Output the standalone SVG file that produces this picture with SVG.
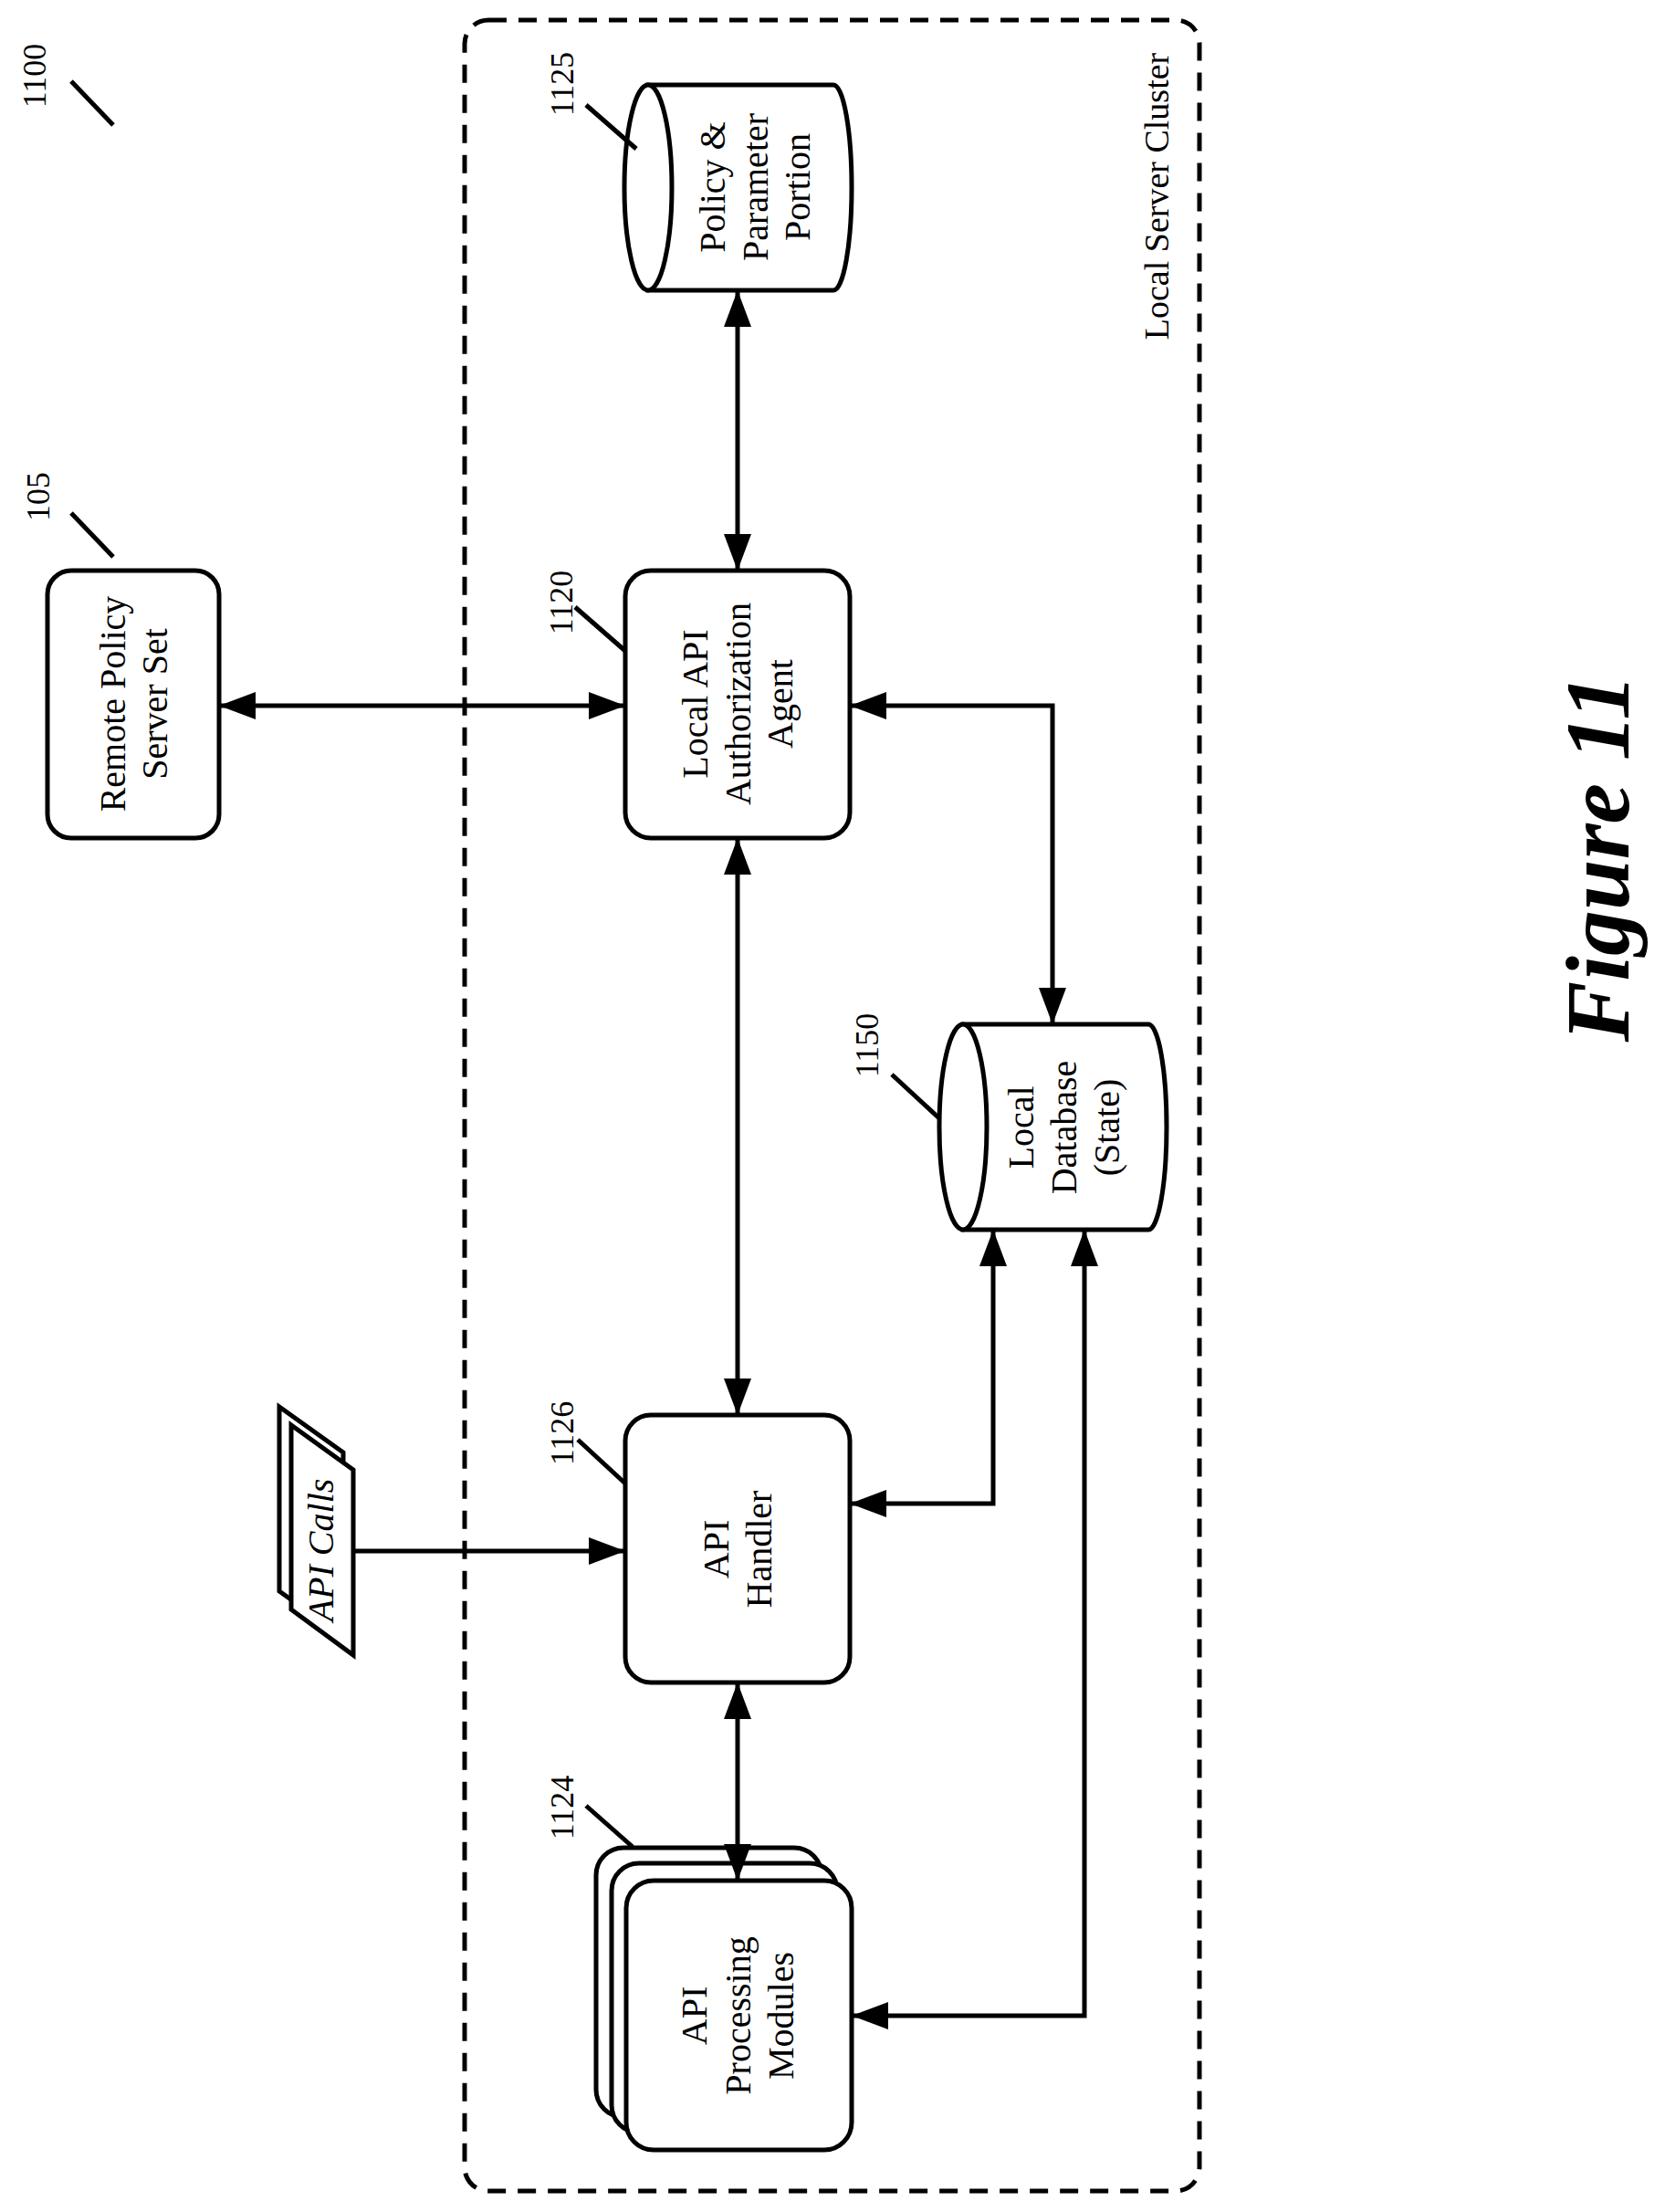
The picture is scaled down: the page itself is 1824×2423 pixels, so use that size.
<svg xmlns="http://www.w3.org/2000/svg" width="1824" height="2423" viewBox="0 0 1824 2423">
<style>
.n{fill:#fff;stroke:#000;stroke-width:5}
.t{font-family:"Liberation Serif","Times New Roman",serif;font-size:40px;text-anchor:middle;fill:#000}
.l{font-family:"Liberation Serif","Times New Roman",serif;font-size:36px;text-anchor:middle;fill:#000}
.ld{stroke:#000;stroke-width:5;fill:none}
.c{stroke:#000;stroke-width:5;fill:none;marker-end:url(#ah)}
.b{marker-start:url(#ah)}
</style>
<defs>
<marker id="ah" markerUnits="userSpaceOnUse" markerWidth="40" markerHeight="30" refX="40" refY="15" orient="auto-start-reverse"><path d="M0,0 L40,15 L0,30 Z" fill="#000"/></marker>
</defs>
<rect x="509" y="22" width="805" height="2378" rx="26" fill="none" stroke="#000" stroke-width="5" stroke-dasharray="20,13"/>
<text class="l" transform="translate(1280,215) rotate(-90)" style="font-size:38px">Local Server Cluster</text>
<text transform="translate(1784,940) rotate(-90)" style="font-family:'Liberation Serif',serif;font-size:100px;font-weight:bold;font-style:italic;text-anchor:middle">Figure 11</text>
<g id="label-1100"><text class="l" transform="translate(50,83) rotate(-90)">1100</text><line class="ld" x1="78" y1="89" x2="124" y2="137"/></g>
<g id="remote"><rect class="n" x="52" y="625" width="188" height="293" rx="26"/><text class="t" transform="translate(146,771) rotate(-90)"><tspan x="0" y="-9">Remote Policy</tspan><tspan x="0" y="37">Server Set</tspan></text>
<text class="l" transform="translate(54,544) rotate(-90)">105</text><line class="ld" x1="78" y1="562" x2="124" y2="610"/></g>
<g id="policy"><path class="n" d="M710,93 H913 A20,112.5 0 0 1 913,318 H710 Z"/><ellipse class="n" cx="710" cy="205.5" rx="26" ry="112.5"/>
<text class="t" transform="translate(827,205) rotate(-90)"><tspan x="0" y="-33">Policy &amp;</tspan><tspan x="0" y="14">Parameter</tspan><tspan x="0" y="60">Portion</tspan></text>
<text class="l" transform="translate(628,92) rotate(-90)">1125</text><line class="ld" x1="642" y1="115" x2="697" y2="163"/></g>
<g id="agent"><rect class="n" x="685" y="625" width="246" height="293" rx="28"/><text class="t" transform="translate(808,771) rotate(-90)"><tspan x="0" y="-33">Local API</tspan><tspan x="0" y="14">Authorization</tspan><tspan x="0" y="60">Agent</tspan></text>
<text class="l" transform="translate(627,660) rotate(-90)">1120</text><line class="ld" x1="630" y1="665" x2="685" y2="713"/></g>
<g id="db"><path class="n" d="M1055,1122 H1258 A20,112.5 0 0 1 1258,1347 H1055 Z"/><ellipse class="n" cx="1055" cy="1234.5" rx="26" ry="112.5"/>
<text class="t" transform="translate(1166,1235) rotate(-90)"><tspan x="0" y="-34">Local</tspan><tspan x="0" y="13">Database</tspan><tspan x="0" y="60">(State)</tspan></text>
<text class="l" transform="translate(962,1145) rotate(-90)">1150</text><line class="ld" x1="977" y1="1177" x2="1029" y2="1225"/></g>
<g id="handler"><rect class="n" x="685" y="1550" width="246" height="293" rx="28"/><text class="t" transform="translate(808,1697) rotate(-90)"><tspan x="0" y="-10">API</tspan><tspan x="0" y="37">Handler</tspan></text>
<text class="l" transform="translate(628,1570) rotate(-90)">1126</text><line class="ld" x1="633" y1="1577" x2="685" y2="1625"/></g>
<g id="apicalls"><path class="n" d="M306,1541 L376,1591 L376,1793 L306,1743 Z"/><path class="n" d="M319,1561 L387,1610 L387,1813 L319,1763 Z"/>
<text transform="translate(365,1698) rotate(-90)" style="font-family:'Liberation Serif',serif;font-size:40px;font-style:italic;text-anchor:middle">API Calls</text></g>
<g id="modules"><rect class="n" x="653" y="2024" width="247" height="295" rx="30"/><rect class="n" x="670" y="2041" width="247" height="295" rx="30"/><rect class="n" x="686" y="2060" width="247" height="295" rx="30"/>
<text class="t" transform="translate(808,2208) rotate(-90)"><tspan x="0" y="-34">API</tspan><tspan x="0" y="14">Processing</tspan><tspan x="0" y="61">Modules</tspan></text>
<text class="l" transform="translate(628,1980) rotate(-90)">1124</text><line class="ld" x1="642" y1="1978" x2="693" y2="2023"/></g>
<g id="connectors">
<path class="c b" d="M808,318 V625"/>
<path class="c b" d="M240,773 H685"/>
<path class="c b" d="M808,918 V1550"/>
<path class="c b" d="M931,773 H1153 V1122"/>
<path class="c b" d="M808,1843 V2060"/>
<path class="c b" d="M931,1647 H1088 V1347"/>
<path class="c b" d="M933,2208 H1188 V1347"/>
<path class="c" d="M387,1699 H685"/>
</g>
</svg>
